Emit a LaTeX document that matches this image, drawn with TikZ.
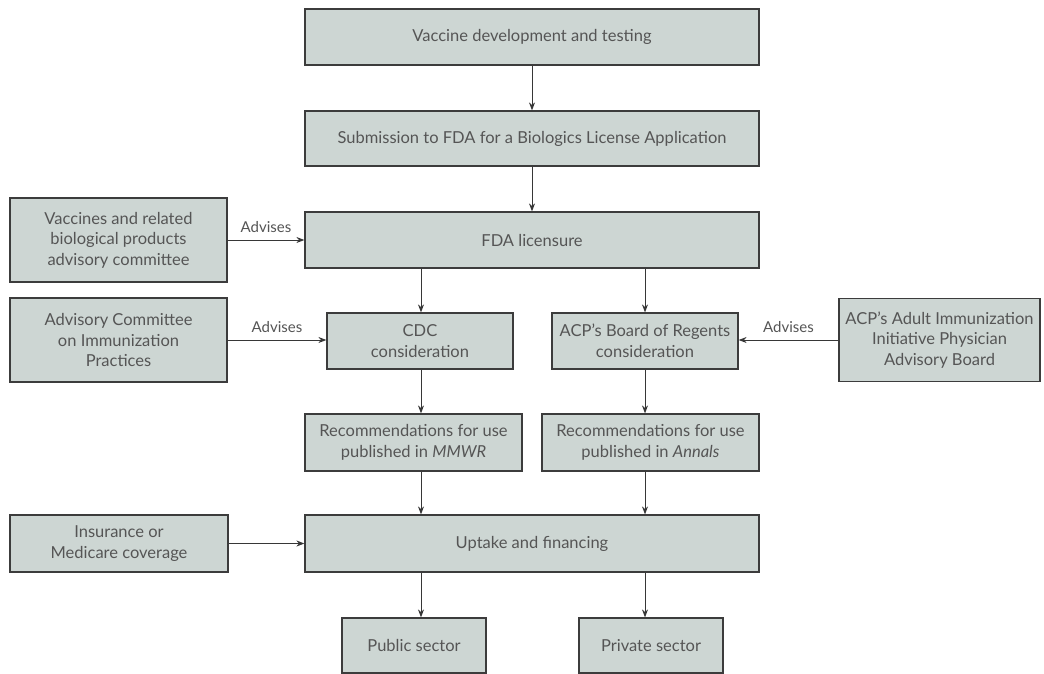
\documentclass[tikz,border=0pt]{standalone}
\usepackage{fontspec}
\setmainfont{Lato}
\usetikzlibrary{arrows.meta,calc}
\definecolor{boxfill}{RGB}{205,214,211}
\definecolor{boxline}{RGB}{60,60,60}
\definecolor{txt}{RGB}{85,85,85}
\definecolor{conn}{RGB}{55,55,55}
\tikzset{
  box/.style={draw=boxline, fill=boxfill, line width=1.2pt, inner sep=2pt,
    align=center, text=txt, font=\fontsize{16.5}{20.5}\selectfont},
  arr/.style={draw=conn, line width=1pt, -{Stealth[length=8pt,width=6pt]}},
  lbl/.style={text=txt, font=\fontsize{15}{17}\selectfont, above=4pt, midway}
}
\begin{document}
\begin{tikzpicture}[x=1pt,y=-1pt]
\useasboundingbox[fill=white] (0,0) rectangle (1044,674);
\node[box, minimum width=454pt, minimum height=56pt] (v1) at (532,37) {Vaccine development and testing};
\node[box, minimum width=454pt, minimum height=55pt] (v2) at (532,138.5) {Submission to FDA for a Biologics License Application};
\node[box, minimum width=454pt, minimum height=56pt] (v3) at (532,240) {FDA licensure};
\node[box, minimum width=217pt, minimum height=84pt] (vrbp) at (118.5,240) {Vaccines and related\\biological products\\advisory committee};
\node[box, minimum width=217pt, minimum height=84pt] (acip) at (118.5,340) {Advisory Committee\\on Immunization\\Practices};
\node[box, minimum width=186pt, minimum height=56pt] (cdc) at (420,341) {CDC\\consideration};
\node[box, minimum width=186pt, minimum height=56pt] (bor) at (645,341) {ACP's Board of Regents\\consideration};
\node[box, minimum width=201pt, minimum height=83pt] (acpa) at (939.5,340) {ACP's Adult Immunization\\Initiative Physician\\Advisory Board};
\node[box, minimum width=217pt, minimum height=57pt] (mmwr) at (413.5,442.5) {Recommendations for use\\published in \textit{MMWR}};
\node[box, minimum width=217pt, minimum height=57pt] (annals) at (650.5,442.5) {Recommendations for use\\published in \textit{Annals}};
\node[box, minimum width=218pt, minimum height=57pt] (ins) at (119,543.5) {Insurance or\\Medicare coverage};
\node[box, minimum width=454pt, minimum height=57pt] (up) at (532,543.5) {Uptake and financing};
\node[box, minimum width=144pt, minimum height=55pt] (pub) at (414,645.5) {Public sector};
\node[box, minimum width=144pt, minimum height=55pt] (priv) at (651,645.5) {Private sector};
\coordinate (cx) at (421,0);
\coordinate (bx) at (645,0);
\draw[arr] (v1.south) -- (v2.north);
\draw[arr] (v2.south) -- (v3.north);
\draw[arr] (v3.south -| cx) -- (cdc.north -| cx);
\draw[arr] (v3.south -| bx) -- (bor.north -| bx);
\draw[arr] (cdc.south -| cx) -- (mmwr.north -| cx);
\draw[arr] (bor.south -| bx) -- (annals.north -| bx);
\draw[arr] (mmwr.south -| cx) -- (up.north -| cx);
\draw[arr] (annals.south -| bx) -- (up.north -| bx);
\draw[arr] (up.south -| cx) -- (pub.north -| cx);
\draw[arr] (up.south -| bx) -- (priv.north -| bx);
\draw[arr] (vrbp.east) -- (vrbp.east -| v3.west) node[lbl] {Advises};
\draw[arr] (acip.east) -- (acip.east -| cdc.west) node[lbl] {Advises};
\draw[arr] (acpa.west) -- (acpa.west -| bor.east) node[lbl] {Advises};
\draw[arr] (ins.east) -- (ins.east -| up.west);
\end{tikzpicture}
\end{document}
